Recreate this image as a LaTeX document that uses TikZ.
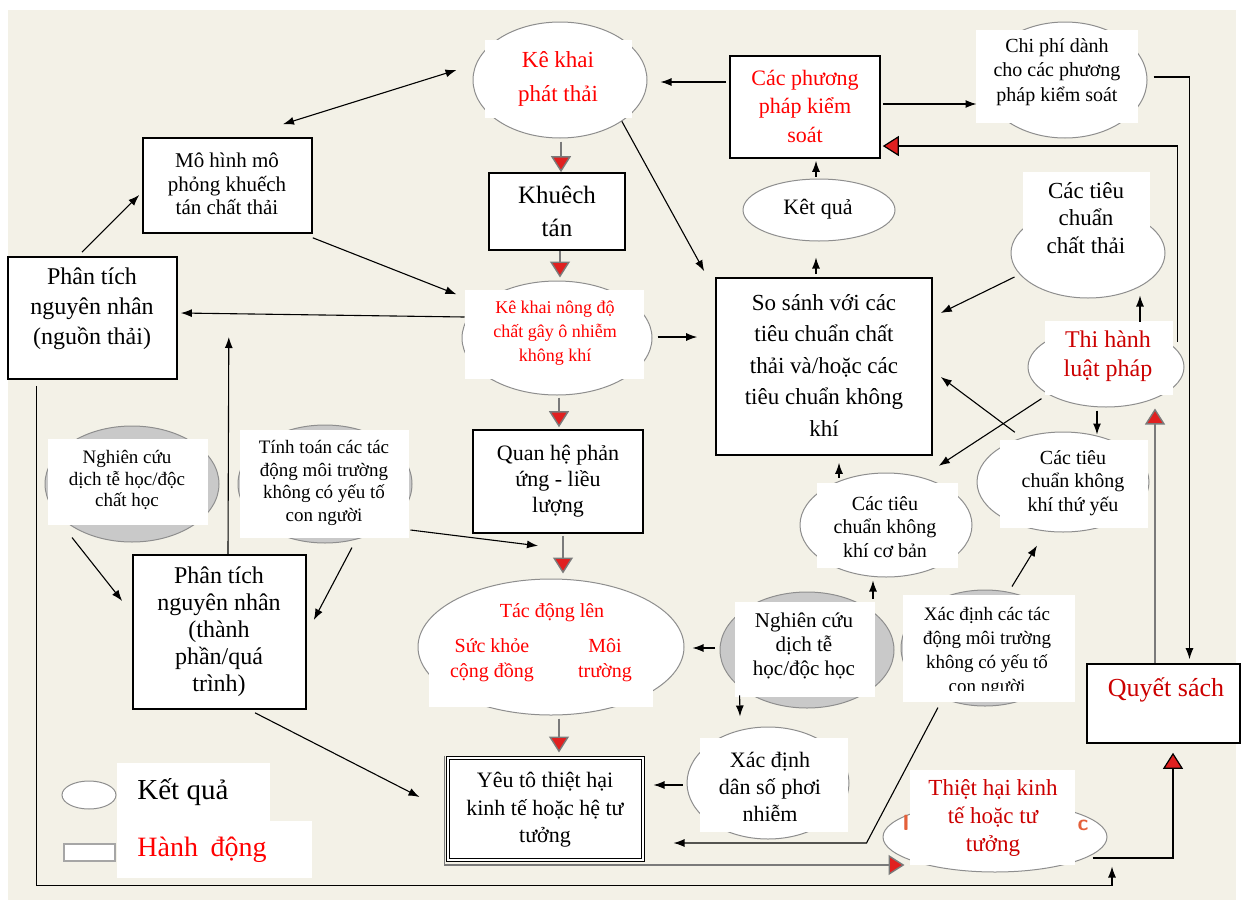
\documentclass[tikz,border=0pt]{standalone}
\usepackage{fontspec}
\setmainfont{Liberation Serif}
\usetikzlibrary{arrows.meta,shapes.geometric,calc}
\definecolor{bgc}{HTML}{F3F1E7}
\definecolor{gfill}{HTML}{C9C9C9}
\definecolor{eline}{HTML}{8E8E8E}
\definecolor{txred}{HTML}{FF0000}
\definecolor{dred}{HTML}{CC0000}
\definecolor{lgray}{HTML}{7A7A7A}
\definecolor{stray}{HTML}{E4603A}
\definecolor{trired}{HTML}{E02020}
\newcommand\myfs[2]{\fontsize{#1}{#2}\selectfont}
\begin{document}
\begin{tikzpicture}[x=0.5pt,y=-0.5pt,
  ell/.style={ellipse, draw=eline, fill=white, line width=0.5pt, inner sep=0pt},
  gell/.style={ell, fill=gfill},
  lbl/.style={align=center, inner sep=0pt},
  abox/.style={rectangle, draw=black, fill=white, line width=0.8pt, inner sep=0pt},
  arr/.style={draw=black, line width=0.55pt, -{Latex[length=5.5pt,width=4pt]}},
  darr/.style={draw=black, line width=0.55pt, {Latex[length=5.5pt,width=4pt]}-{Latex[length=5.5pt,width=4pt]}},
  rarr/.style={draw=lgray, line width=0.7pt, -{Triangle[length=8pt,width=10pt,fill=trired]}},
  rarrb/.style={draw=black, line width=0.6pt, -{Triangle[length=8pt,width=10pt,fill=trired]}},
]
\useasboundingbox (0,0) rectangle (1243,900);
\fill[bgc] (8,10) rectangle (1236,900);

% Ke khai phat thai
\node[ell, minimum width=87pt, minimum height=58pt] (kk) at (560,80) {};
\fill[white] (485,40) rectangle (632,118);
\node[lbl, text=txred, font=\myfs{11.5}{17}] (kkt) at (558,79) {Kê khai\\phát thải};

% Chi phi
\node[ell, minimum width=82pt, minimum height=58pt] (cp) at (1065,80) {};
\fill[white] (976,30) rectangle (1138,123);
\node[lbl, font=\myfs{10}{12.25}] (cpt) at (1057,72) {Chi phí dành\\cho các phương\\pháp kiểm soát};

% Cac phuong phap
\node[abox, minimum width=75pt, minimum height=51pt] (pp) at (805,107) {};
\node[lbl, text=txred, font=\myfs{11}{14.25}] (ppt) at (805,106) {Các phương\\pháp kiểm\\soát};

% Mo hinh
\node[abox, minimum width=84.5pt, minimum height=47.5pt] (mh) at (227.5,185.5) {};
\node[lbl, font=\myfs{10.5}{11.75}] (mht) at (227,184) {Mô hình mô\\phỏng khuếch\\tán chất thải};

% Phan tich 1
\node[abox, minimum width=84.5pt, minimum height=61pt] (pt1) at (92.5,318) {};
\node[lbl, font=\myfs{12}{15}] (pt1t) at (92,309) {Phân tích\\nguyên nhân\\(nguồn thải)};

% Khuech tan
\node[abox, minimum width=68pt, minimum height=38.5pt] (kt) at (557,211.5) {};
\node[lbl, font=\myfs{12.5}{16.5}] (ktt) at (557,211) {Khuêch\\tán};

% Ke khai nong do
\node[ell, minimum width=95pt, minimum height=57pt] (kn) at (557,338) {};
\fill[white] (465,290) rectangle (644,379);
\node[lbl, text=txred, font=\myfs{9}{12}] (knt) at (555,333) {Kê khai nông độ\\chất gây ô nhiễm\\không khí};

% Ket qua
\node[ell, minimum width=76pt, minimum height=31pt] (kq) at (819,210) {};
\node[lbl, font=\myfs{11}{13}] (kqt) at (818,209) {Kêt quả};

% So sanh
\node[abox, minimum width=108pt, minimum height=88.5pt] (ss) at (824,366.5) {};
\node[lbl, font=\myfs{11.5}{15.75}] (sst) at (824,365) {So sánh với các\\tiêu chuẩn chất\\thải và/hoặc các\\tiêu chuẩn không\\khí};

% Tieu chuan chat thai
\node[ell, minimum width=77pt, minimum height=45pt] (tc) at (1088,253) {};
\fill[white] (1023,172) rectangle (1150,262);
\node[lbl, font=\myfs{11.5}{13.75}] (tct) at (1086,218) {Các tiêu\\chuẩn\\chất thải};

% Thi hanh luat phap
\node[ell, minimum width=78pt, minimum height=40pt] (thh) at (1106,367) {};
\fill[white] (1045,321) rectangle (1173,395);
\node[lbl, text=dred, font=\myfs{12}{14.5}] (thht) at (1108,356) {Thi hành\\luật pháp};

% Tieu chuan khong khi thu yeu
\node[ell, minimum width=86pt, minimum height=50pt] (ty) at (1063,482) {};
\fill[white] (1000,440) rectangle (1148,528);
\node[lbl, font=\myfs{10}{11.75}] (tyt) at (1073,483) {Các tiêu\\chuẩn không\\khí thứ yếu};

% Tieu chuan khong khi co ban
\node[ell, minimum width=86pt, minimum height=52pt] (cb) at (886,525) {};
\fill[white] (817,483) rectangle (958,568);
\node[lbl, font=\myfs{10}{11.75}] (cbt) at (885,527) {Các tiêu\\chuẩn không\\khí cơ bản};

% Nghien cuu 2
\node[gell, minimum width=87pt, minimum height=58pt] (nc2) at (807,650) {};
\fill[white] (735,602) rectangle (875,697);
\node[lbl, font=\myfs{10.5}{12}] (nc2t) at (804,646) {Nghiên cứu\\dịch tễ\\học/độc học};

% Xac dinh tac dong
\node[gell, minimum width=84pt, minimum height=58pt] (xt) at (985,648) {};
\fill[white] (903,595) rectangle (1075,702);
\begin{scope}
\clip (903,595) rectangle (1075,690);
\node[lbl, font=\myfs{9.5}{12}] (xtt) at (987,652) {Xác định các tác\\động môi trường\\không có yếu tố\\con người};
\end{scope}

% Tinh toan
\node[gell, minimum width=87pt, minimum height=59pt] (tt) at (325,484) {};
\fill[white] (240,430) rectangle (409,538);
\node[lbl, font=\myfs{9.5}{11.25}] (ttt) at (324,483) {Tính toán các tác\\động môi trường\\không có yếu tố\\con người};

% Nghien cuu 1
\node[gell, minimum width=87pt, minimum height=58pt] (nc1) at (132,484) {};
\fill[white] (48,439) rectangle (208,525);
\node[lbl, font=\myfs{9.5}{10.75}] (nc1t) at (127,480) {Nghiên cứu\\dịch tễ học/độc\\chất học};

% Phan tich 2
\node[abox, minimum width=86.5pt, minimum height=77pt] (pt2) at (219.5,632) {};
\node[lbl, font=\myfs{12}{13.5}] (pt2t) at (219,632) {Phân tích\\nguyên nhân\\(thành\\phần/quá\\trình)};

% Quan he
\node[abox, minimum width=85pt, minimum height=51.5pt] (qh) at (558,481.5) {};
\node[lbl, font=\myfs{11}{13}] (qht) at (558,481) {Quan hệ phản\\ứng - liều\\lượng};

% Tac dong len
\node[ell, minimum width=133pt, minimum height=68pt] (td) at (551,647) {};
\fill[white] (429,660) rectangle (653,707);
\node[lbl, text=txred, font=\myfs{10}{12}] (tdt) at (552,613) {Tác động lên};
\node[lbl, text=txred, font=\myfs{10}{12.5}] (tds) at (492,660) {Sức khỏe\\cộng đồng};
\node[lbl, text=txred, font=\myfs{10}{12.5}] (tdm) at (605,660) {Môi\\trường};

% Yeu to thiet hai
\node[rectangle, draw=black, double=white, double distance=1.1pt, line width=0.5pt, fill=white, minimum width=97.5pt, minimum height=51pt] (yt) at (545.5,809) {};
\node[lbl, font=\myfs{11}{13.75}] (ytt) at (545,810) {Yêu tô thiệt hại\\kinh tế hoặc hệ tư\\tưởng};

% Xac dinh dan so
\node[ell, minimum width=81pt, minimum height=56pt] (xd) at (768,783) {};
\fill[white] (700,738) rectangle (848,832);
\node[lbl, font=\myfs{11}{13.5}] (xdt) at (770,787) {Xác định\\dân số phơi\\nhiễm};

% Thiet hai kinh te
\node[ell, minimum width=112pt, minimum height=35pt] (th) at (995,837) {};
\node[lbl, text=stray, font=\sffamily\bfseries\myfs{11}{12}] (thI) at (906,823) {I};
\node[lbl, text=stray, font=\sffamily\bfseries\myfs{11}{12}] (thC) at (1083,825) {c};
\fill[white] (910,770) rectangle (1075,865);
\node[lbl, text=dred, font=\myfs{11.5}{14}] (tht) at (993,818) {Thiệt hại kinh\\tế hoặc tư\\tưởng};

% Quyet sach
\node[abox, minimum width=76.5pt, minimum height=39.5pt] (qs) at (1163.5,703.5) {};
\node[lbl, text=dred, font=\myfs{13}{15}] (qst) at (1166,690) {Quyết sách};

% Legend
\node[ell, minimum width=27pt, minimum height=14pt] (lg1) at (89,795) {};
\node[rectangle, draw=gray!70, fill=white, line width=0.6pt, minimum width=25.5pt, minimum height=8.5pt, inner sep=0pt] (lg2) at (89.5,852.5) {};
\fill[white] (117,763) rectangle (270,821);
\fill[white] (117,821) rectangle (312,878);
\node[lbl, font=\myfs{14.5}{16}, anchor=west] (lg1t) at (137,792) {Kết quả};
\node[lbl, text=txred, font=\myfs{14}{16}, anchor=west] (lg2t) at (137,850) {Hành\hspace{0.45em}động};

% ---------- connectors ----------
\draw[darr] ($(mh.north)+(55.5,-13)$) -- ($(kk.west)+(-16,-10)$);
\draw[arr] ($(pt1.north)+(-10.5,-4)$) -- ($(mh.west)+(-3,9.5)$);
\draw[arr] ($(mh.south east)+(0,4)$) -- ($(kn.north west)+(-33,-3)$);
\draw[arr] ($(kn.west)+(3,-21)$) -- ($(pt1.east)+(3,-5)$);
\draw[arr] ($(pt2.north)+(8.5,0)$) -- ($(pt1.east)+(51,19)$);
\draw[arr] ($(nc1.south)+(-60,-5)$) -- ($(pt2.west)+(-10,-31)$);
\draw[arr] ($(tt.south)+(27,4)$) -- ($(pt2.east)+(7,-12)$);
\draw[arr] ($(tt.east)+(-2,46)$) -- ($(qh.south)+(-20,12)$);

\draw[rarr] ($(kt.north |- kk.south)+(4,3)$) -- ($(kt.north)+(4,0)$);
\draw[rarr] ($(kt.south)+(3,0)$) -- ($(kn.north)+(3,-3)$);
\draw[rarr] ($(qh.north |- kn.south)+(1,2)$) -- ($(qh.north)+(1,-2)$);
\draw[rarr] ($(qh.south)+(5,2)$) -- ($(qh.south |- td.north)+(5,-5)$);
\draw[rarr] ($(td.south)+(8,3)$) -- ($(td.south |- yt.north)+(8,-5)$);

\draw[arr] (kk.south east) -- ($(ss.north west)+(-11,-6)$);
\draw[arr] ($(kn.east)+(5,-1)$) -- ($(ss.west)+(-18,-29.5)$);
\draw[arr] ($(pp.west)+(-3,-25)$) -- ($(kk.east)+(13,2)$);
\draw[arr] ($(pp.east)+(2,-3)$) -- ($(cp.west)+(-6,24)$);
\draw[arr] ($(pp.south)+(11,18)$) -- ($(pp.south)+(11,2)$);
\draw[arr] ($(ss.north)+(-8,-3)$) -- ($(kq.south)+(-3,16)$);

\draw[rarrb] ($(thh.east)+(-7,-25)$) |- ($(pp.east)+(2,39)$);
\draw[arr] ($(cp.east)+(6,-3)$) -| ($(qs.north)+(26,-4)$);
\draw[rarr] ($(qs.north)+(-8.5,0)$) -- ($(thh.south)+(49,1)$);
\draw[arr] ($(thh.north)+(34,-5)$) -- ($(tc.south)+(52,-3)$);
\draw[arr] ($(tc.west)+(4,24)$) -- ($(ss.east)+(8,-53.5)$);
\draw[arr] ($(thh.south)+(-9,3)$) -- ($(ty.north)+(34,3)$);
\draw[arr] ($(thh.south west)+(-9,3)$) -- ($(ss.south east)+(6,10)$);
\draw[arr] ($(ty.north west)+(13,-14)$) -- ($(ss.east)+(8,10.5)$);
\draw[arr] ($(ss.south)+(15,22)$) -- ($(ss.south)+(15,7)$);
\draw[arr] ($(cb.south)+(-13,21)$) -- ($(cb.south)+(-13,3)$);
\draw[arr] ($(xt.north)+(27,-3)$) -- ($(ty.south)+(-26,13)$);
\draw[arr] ($(nc2.west)+(-5,-2)$) -- ($(td.east)+(8,1)$);
\draw[arr] ($(nc2.south west)+(-5.5,4)$) -- ($(xd.north)+(-28,-10)$);
\draw[arr] ($(xd.west)+(-4,2)$) -- ($(yt.east)+(10,-24)$);
\draw[arr] ($(xt.south)+(-47,1)$) -- ($(yt.east)+(223,34)$) -- ($(yt.east)+(30,34)$);
\draw[rarr] ($(yt.north west)+(-3,-2)$) |- ($(th.west)+(22,28)$);
\draw[arr] ($(pt2.south)+(35.5,3)$) -- ($(yt.west)+(-28,-12)$);
\draw[rarrb] ($(th.east)+(-15,21)$) -| ($(qs.south)+(9.5,9)$);
\draw[arr] ($(pt1.south west)+(29,6)$) |- ($(th.south)+(117,13)$) -- ($(th.south)+(117,-6)$);
\end{tikzpicture}
\end{document}
